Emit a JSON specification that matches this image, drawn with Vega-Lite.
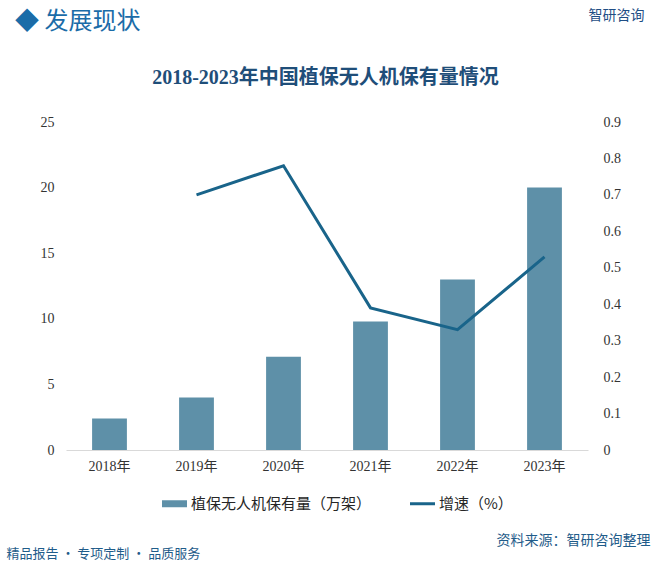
{
  "$schema": "https://vega.github.io/schema/vega-lite/v6.json",
  "autosize": {"type": "none"},
  "width": 522,
  "height": 328,
  "padding": {"left": 66, "top": 122, "right": 71, "bottom": 113},
  "background": "white",
  "config": {"view": {"stroke": null}, "font": "Liberation Serif, Noto Sans CJK SC"},
  "title": {"text": "◆ 发展现状", "anchor": "start", "frame": "group", "dx": -51, "offset": -26, "fontSize": 24, "color": "#1B6CA8", "font": "Noto Sans CJK SC", "fontWeight": "normal"},
  "data": {"values": [
    {"year": "2018年", "保有量": 2.4, "增速": null},
    {"year": "2019年", "保有量": 4.0, "增速": 0.70},
    {"year": "2020年", "保有量": 7.1, "增速": 0.78},
    {"year": "2021年", "保有量": 9.8, "增速": 0.39},
    {"year": "2022年", "保有量": 13.0, "增速": 0.33},
    {"year": "2023年", "保有量": 20.0, "增速": 0.53}
  ]},
  "layer": [
    {
      "mark": {"type": "bar"},
      "encoding": {
        "x": {"field": "year", "type": "nominal", "sort": null,
          "scale": {"paddingInner": 0.6, "paddingOuter": 0.3},
          "axis": {"orient": "bottom", "title": "资料来源：智研咨询整理", "domainColor": "#D9D9D9", "domainWidth": 1, "ticks": false, "labelAngle": 0, "labelFontSize": 14, "labelColor": "#333333", "labelPadding": 9,
            "titleX": 584, "titleY": 90, "titleAlign": "right", "titleBaseline": "middle", "titleFontSize": 14, "titleColor": "#1F5C8A", "titleFontWeight": "normal", "titleFont": "Noto Sans CJK SC"}},
        "y": {"field": "保有量", "type": "quantitative", "scale": {"domain": [0, 25]},
          "axis": {"orient": "left", "values": [0, 5, 10, 15, 20, 25], "grid": false, "domain": false, "ticks": false, "labelPadding": 12, "labelFontSize": 14, "labelColor": "#333333",
            "title": "精品报告 · 专项定制 · 品质服务", "titleAngle": 0, "titleX": -60, "titleY": 431, "titleAlign": "left", "titleBaseline": "middle", "titleFontSize": 13, "titleColor": "#1F5C8A", "titleFont": "Noto Sans CJK SC", "titleFontWeight": "normal"}},
        "color": {"datum": "植保无人机保有量（万架）", "type": "nominal",
          "scale": {"domain": ["植保无人机保有量（万架）", "增速（%）"], "range": ["#5E90A8", "#19648A"]},
          "legend": {"orient": "none", "legendX": 96, "legendY": 369, "direction": "horizontal", "title": null, "labelFontSize": 15, "labelFont": "Noto Sans CJK SC", "labelColor": "#262626", "columnPadding": 38, "labelOffset": 4, "symbolSize": 625, "labelLimit": 300,
            "encode": {"symbols": {"update": {
              "shape": {"signal": "datum.value == '增速（%）' ? 'M-1,-0.12H1V0.12H-1Z' : 'M-1,-0.28H1V0.28H-1Z'"},
              "fill": {"scale": "color", "field": "value"},
              "stroke": {"value": "transparent"},
              "strokeWidth": {"value": 0},
              "opacity": {"value": 1}}}}}}
      }
    },
    {
      "mark": {"type": "line", "strokeWidth": 3},
      "encoding": {
        "x": {"field": "year", "type": "nominal", "sort": null,
          "axis": {"orient": "top", "labels": false, "ticks": false, "domain": false, "title": "2018-2023年中国植保无人机保有量情况", "titleFontSize": 20, "titleColor": "#1F4E79", "titleX": 259, "titleY": -45, "titleBaseline": "middle", "titleAlign": "center", "titleFont": "Liberation Serif, Noto Sans CJK SC", "titleFontWeight": "bold"}},
        "y": {"field": "增速", "type": "quantitative", "scale": {"domain": [0, 0.9]},
          "axis": {"orient": "right", "values": [0, 0.1, 0.2, 0.3, 0.4, 0.5, 0.6, 0.7, 0.8, 0.9], "labelExpr": "datum.value == 0 ? '0' : format(datum.value, '.1f')", "grid": false, "domain": false, "ticks": false, "labelPadding": 15, "labelFontSize": 14, "labelColor": "#333333",
            "title": "智研咨询", "titleAngle": 0, "titleX": 0, "titleY": -107, "titleAlign": "left", "titleBaseline": "middle", "titleFontSize": 14, "titleColor": "#1F4E85", "titleFont": "Noto Sans CJK SC", "titleFontWeight": "normal"}},
        "color": {"datum": "增速（%）", "type": "nominal"}
      }
    }
  ],
  "resolve": {"scale": {"y": "independent"}, "axis": {"x": "independent", "y": "independent"}}
}
